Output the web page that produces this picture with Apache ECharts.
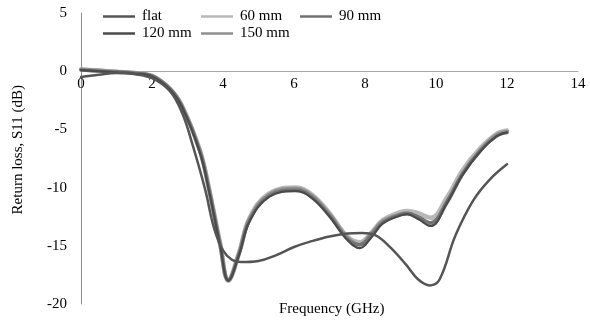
<!DOCTYPE html>
<html>
<head>
<meta charset="utf-8">
<script src="https://cdn.jsdelivr.net/npm/echarts@6/dist/echarts.min.js"></script>
<style>
  html, body { margin: 0; padding: 0; background: #fff; }
  #chart { width: 590px; height: 320px; }
</style>
</head>
<body>
<div id="chart"></div>
<script>
// Return loss S11 (dB) versus frequency (GHz) for a flat antenna and bent radii
const flatFreq = [0, 0.5, 1, 1.5, 2, 2.5, 2.85, 3.15, 3.5, 3.75, 4, 4.25, 4.5, 5, 5.5, 6, 6.5, 7, 7.5, 7.9, 8.3, 8.7, 9.15, 9.5, 9.83, 10.1, 10.55, 11.05, 11.5, 12];
const flatS11 = [-0.5, -0.3, -0.15, -0.25, -0.6, -1.7, -3.6, -6.4, -10.2, -13.5, -15.4, -16.2, -16.4, -16.3, -15.8, -15.1, -14.6, -14.2, -13.95, -13.9, -14.1, -15.1, -16.6, -17.9, -18.4, -17.9, -14.1, -11.1, -9.35, -8.0];

const bentFreq = [0, 0.5, 1, 1.5, 2, 2.5, 2.85, 3.35, 3.6, 3.92, 4.15, 4.45, 4.75, 5.3, 6.05, 6.5, 7, 7.5, 7.85, 8.2, 8.5, 9, 9.2, 9.5, 9.85, 10.3, 10.75, 11.25, 11.7, 12];
const s11_60 = [0.15, 0.05, -0.05, -0.15, -0.4, -1.5, -3.0, -6.8, -10.0, -14.8, -17.9, -15.6, -12.6, -10.5, -10.0, -10.6, -12.2, -14.2, -14.7, -13.8, -12.8, -12.1, -12.0, -12.2, -12.6, -10.9, -8.5, -6.6, -5.4, -5.1];
const s11_90 = [0.1, 0.0, -0.05, -0.15, -0.4, -1.5, -3.05, -6.9, -10.1, -14.9, -17.9, -15.7, -12.8, -10.7, -10.2, -10.8, -12.4, -14.4, -14.9, -14.0, -13.0, -12.3, -12.2, -12.5, -13.0, -11.2, -8.8, -6.8, -5.6, -5.3];
const s11_120 = [0.1, 0.0, -0.1, -0.2, -0.45, -1.55, -3.1, -7.0, -10.2, -15.0, -18.0, -15.8, -12.9, -10.8, -10.3, -10.9, -12.5, -14.5, -15.2, -14.2, -13.1, -12.4, -12.3, -12.7, -13.3, -11.4, -8.9, -6.9, -5.6, -5.25];
const s11_150 = [0.15, 0.05, -0.05, -0.15, -0.4, -1.5, -3.05, -6.85, -10.05, -14.9, -18.0, -15.7, -12.7, -10.6, -10.1, -10.7, -12.3, -14.3, -14.9, -13.9, -12.9, -12.3, -12.2, -12.6, -13.1, -11.3, -8.8, -6.8, -5.5, -5.2];

const seriesNames = ['flat', '60 mm', '90 mm', '120 mm', '150 mm'];
const xTicks = { min: 0, max: 14, step: 2 };
const yTicks = { min: -20, max: 5, step: 5 };

const pairs = (xs, ys) => xs.map((x, i) => [x, ys[i]]);

const font = 'Liberation Serif';
const fs = 15;
const chart = echarts.init(document.getElementById('chart'), null, { renderer: 'canvas' });

const gridTop = 13, gridBottom = 16, chartH = 320;
const plotH = chartH - gridTop - gridBottom;
// distance from the plot bottom up to the 0 dB line
const zeroLift = plotH * (0 - yTicks.min) / (yTicks.max - yTicks.min);

function lineSeries(name, xs, ys, color, width, z) {
  return {
    name, type: 'line', data: pairs(xs, ys),
    smooth: 0.4, showSymbol: false, symbol: 'none',
    lineStyle: { color, width, cap: 'round', join: 'round' },
    itemStyle: { color },
    z
  };
}

// one legend block per entry, laid out in two rows
const legendSlots = [[103, 9], [201, 9], [300, 9], [103, 26], [201, 26]];
const legends = seriesNames.map((n, i) => ({
  data: [n], left: legendSlots[i][0], top: legendSlots[i][1], padding: 0,
  icon: 'rect', itemWidth: 32, itemHeight: 2.5, itemGap: 0,
  textStyle: { fontFamily: font, fontSize: fs, color: '#000', padding: [0, 0, 0, 2] },
  selectedMode: false
}));

chart.setOption({
  animation: false,
  backgroundColor: '#fff',
  grid: { left: 81, right: 12, top: gridTop, bottom: gridBottom, containLabel: false },
  legend: legends,
  xAxis: {
    type: 'value', min: xTicks.min, max: xTicks.max, interval: xTicks.step,
    position: 'bottom', offset: -zeroLift,
    axisLine: { onZero: false, lineStyle: { color: '#a6a6a6', width: 1 } },
    axisTick: { show: false },
    splitLine: { show: false },
    axisLabel: { fontFamily: font, fontSize: fs, color: '#000', margin: 5 }
  },
  yAxis: {
    type: 'value', min: yTicks.min, max: yTicks.max, interval: yTicks.step,
    axisLine: { show: true, onZero: false, lineStyle: { color: '#8c8c8c', width: 1 } },
    axisTick: { show: false },
    splitLine: { show: false },
    axisLabel: { fontFamily: font, fontSize: fs, color: '#000', margin: 14 }
  },
  graphic: [
    {
      type: 'text', left: 11, top: 85, rotation: Math.PI / 2,
      style: { text: 'Return loss, S11 (dB)', fontFamily: font, fontSize: fs, fill: '#000' }
    },
    {
      type: 'text', left: 279, top: 302,
      style: { text: 'Frequency (GHz)', fontFamily: font, fontSize: fs, fill: '#000' }
    }
  ],
  series: [
    lineSeries('flat', flatFreq, flatS11, '#555555', 2.5, 6),
    lineSeries('60 mm', bentFreq, s11_60, '#b8b8b8', 4.5, 2),
    lineSeries('90 mm', bentFreq, s11_90, '#727272', 3, 4),
    lineSeries('120 mm', bentFreq, s11_120, '#4a4a4a', 2.2, 5),
    lineSeries('150 mm', bentFreq, s11_150, '#8f8f8f', 4, 3)
  ]
});
</script>
</body>
</html>
